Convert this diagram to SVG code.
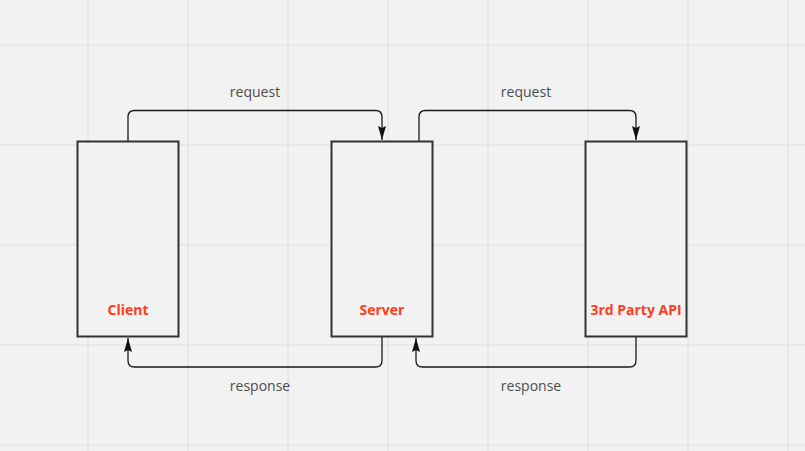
<svg xmlns="http://www.w3.org/2000/svg" width="805" height="451" viewBox="0 0 805 451">
<style>
.grid line{stroke:#e5e5e5;stroke-width:1.5}
.box{fill:#f2f2f2;stroke:#333333;stroke-width:2}
.name{font-family:"Open Sans","Liberation Sans",sans-serif;font-size:14px;font-weight:bold;fill:#ff3d1a;text-anchor:middle}
.lbl{font-family:"Open Sans","Liberation Sans",sans-serif;font-size:14px;fill:#4d4d4d;text-anchor:middle}
.conn{fill:none;stroke:#1a1a1a;stroke-width:1.3;marker-end:url(#arr)}
</style>
<defs>
<marker id="arr" viewBox="0 0 14 8" refX="14" refY="4" markerWidth="14" markerHeight="8" markerUnits="userSpaceOnUse" orient="auto">
<path d="M0,0 L14,4 L0,8 L2,4 Z" fill="#111111"/>
</marker>
</defs>
<rect width="805" height="451" fill="#f2f2f2"/>
<g class="grid">
<line x1="0" y1="45" x2="805" y2="45"/>
<line x1="0" y1="145" x2="805" y2="145"/>
<line x1="0" y1="245" x2="805" y2="245"/>
<line x1="0" y1="345" x2="805" y2="345"/>
<line x1="0" y1="445" x2="805" y2="445"/>
<line x1="88" y1="0" x2="88" y2="451"/>
<line x1="188" y1="0" x2="188" y2="451"/>
<line x1="288" y1="0" x2="288" y2="451"/>
<line x1="388" y1="0" x2="388" y2="451"/>
<line x1="488" y1="0" x2="488" y2="451"/>
<line x1="588" y1="0" x2="588" y2="451"/>
<line x1="688" y1="0" x2="688" y2="451"/>
<line x1="788" y1="0" x2="788" y2="451"/>
</g>
<g id="connectors">
<path class="conn" d="M128,141 V117 Q128,110.5 134.5,110.5 H375.5 Q382,110.5 382,117 V140"/>
<path class="conn" d="M419,141 V117 Q419,110.5 425.5,110.5 H629.5 Q636,110.5 636,117 V140"/>
<path class="conn" d="M382,337 V360.5 Q382,367 375.5,367 H134.5 Q128,367 128,360.5 V338"/>
<path class="conn" d="M636,337 V360.5 Q636,367 629.5,367 H422.5 Q416,367 416,360.5 V338"/>
<text class="lbl" x="255" y="97">request</text>
<text class="lbl" x="526" y="97">request</text>
<text class="lbl" x="260" y="391">response</text>
<text class="lbl" x="531" y="391">response</text>
</g>
<g id="client">
<rect class="box" x="77.5" y="141.5" width="101" height="195"/>
<text class="name" x="128" y="315">Client</text>
</g>
<g id="server">
<rect class="box" x="331.5" y="141.5" width="101" height="195"/>
<text class="name" x="382" y="315">Server</text>
</g>
<g id="third-party-api">
<rect class="box" x="585.5" y="141.5" width="101" height="195"/>
<text class="name" x="636" y="315">3rd Party API</text>
</g>
</svg>
